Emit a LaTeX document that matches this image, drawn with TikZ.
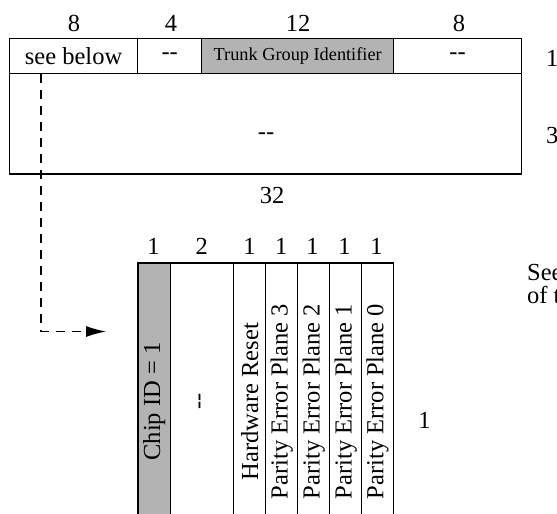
\documentclass[tikz,border=0pt]{standalone}
\usepackage{fontspec}
\setmainfont{Liberation Serif}
\usetikzlibrary{calc,arrows.meta}
\definecolor{champGris}{RGB}{179,179,179}

\begin{document}
\begin{tikzpicture}[x=1pt,y=-1pt,
  texte/.style={font=\fontsize{24.5}{28}\selectfont,inner sep=0pt},
  champ/.style={draw,line width=1.3pt,inner sep=0pt,minimum height=35pt,font=\fontsize{24.5}{28}\selectfont},
  bit/.style={draw,line width=1.3pt,inner sep=0pt,rotate=90,minimum width=277pt,font=\fontsize{24.5}{28}\selectfont}]
\useasboundingbox (0,0) rectangle (557,514);
% mot du haut
\node[champ,minimum width=128pt] (seebelow) at (73.6,56) {see below};
\node[champ,minimum width=64.3pt] (tiretun) at (169.7,56) {-{}-};
\node[champ,minimum width=191.8pt,fill=champGris,font=\fontsize{18.3}{21}\selectfont] (trunk) at (297.7,56) {Trunk Group Identifier};
\node[champ,minimum width=127.9pt] (tiretdeux) at (457.5,56) {-{}-};
\node[draw,line width=1.3pt,minimum width=511.9pt,minimum height=100.5pt,inner sep=0pt] (rangdeux) at (265.5,123.7) {};
\node[texte] (tiretbas) at (266,136) {-{}-};
\node[texte] (largtun) at (73.9,23) {8};
\node[texte] (largdeux) at (171,23) {4};
\node[texte] (largtrois) at (298,23) {12};
\node[texte] (largquatre) at (459,23) {8};
\node[texte,anchor=west] (numun) at (546,58) {1};
\node[texte,anchor=west] (numtrois) at (546,136) {3};
\node[texte] (total) at (272,196) {32};
% detail du premier octet
\node[bit,minimum height=32.7pt,fill=champGris] (chipid) at (154.2,401.5) {Chip ID = 1};
\node[bit,minimum height=63.2pt] (libre) at (202.1,401.5) {-{}-};
\node[bit,minimum height=32pt] (reset) at (249.7,401.5) {Hardware Reset};
\node[bit,minimum height=32pt] (peptrois) at (281.7,401.5) {Parity Error Plane 3};
\node[bit,minimum height=32pt] (pepdeux) at (313.7,401.5) {Parity Error Plane 2};
\node[bit,minimum height=32pt] (pepun) at (345.7,401.5) {Parity Error Plane 1};
\node[bit,minimum height=32pt] (pepzero) at (377.6,401.5) {Parity Error Plane 0};
\node[texte] (bitun) at (153.5,246) {1};
\node[texte] (bitdeux) at (201.8,246) {2};
\node[texte] (bittrois) at (249.4,246) {1};
\node[texte] (bitquatre) at (281.3,246) {1};
\node[texte] (bitcinq) at (312.6,246) {1};
\node[texte] (bitsix) at (344.6,246) {1};
\node[texte] (bitsept) at (376.6,246) {1};
\node[texte] (numbas) at (424.5,420) {1};
\node[texte,anchor=west,align=left,font=\fontsize{24.5}{23}\selectfont] (renvoi) at (527,284) {See\\of t};
% renvoi pointille
\coordinate (depart) at ($(seebelow.south west)+(32,0)$);
\coordinate (arrivee) at (106,331.5);
\draw[line width=1.3pt,dash pattern=on 9pt off 7pt,-{Latex[length=20pt,width=11pt]}] (depart) |- (arrivee);
\end{tikzpicture}
\end{document}
